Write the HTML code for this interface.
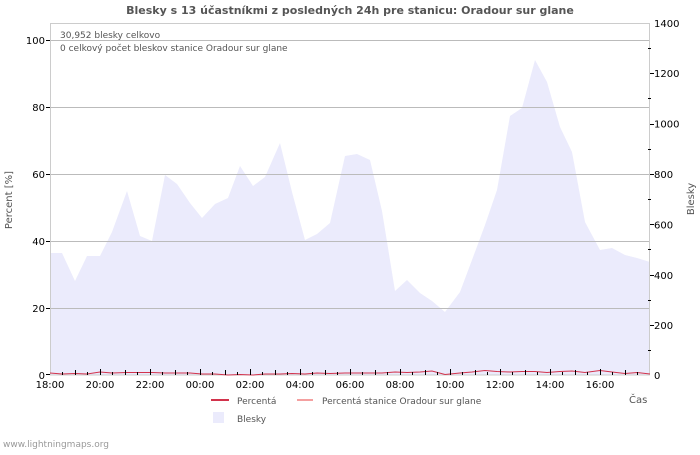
<!DOCTYPE html>
<html><head><meta charset="utf-8"><style>body{margin:0;background:#fff}</style></head><body>
<svg width="700" height="450" xmlns="http://www.w3.org/2000/svg" font-family="'DejaVu Sans','Liberation Sans',sans-serif">
<rect width="700" height="450" fill="#fff"/>
<text x="350" y="14" text-anchor="middle" font-size="11" font-weight="bold" fill="#555">Blesky s 13 účastníkmi z posledných 24h pre stanicu: Oradour sur glane</text>
<polygon fill="#ebebfc" points="50,375 50,253 62,253 75,281 87,256 100,256 112,232 127,191 140,236 152,241 165,175 177,184 190,203 202,218 215,204 228,198 240,166 253,186 265,177 280,143 292,192 305,240 317,234 330,223 345,156 357,154 370,160 382,211 395,291 407,280 420,293 432,301 445,312 460,292 472,260 485,225 497,190 510,116 522,108 535,60 547,82 560,127 572,152 585,222 600,250 612,248 625,255 637,258 650,262 650,375"/>
<g stroke="#bbb" stroke-width="1">
<line x1="50" y1="40.5" x2="650" y2="40.5"/><line x1="50" y1="107.5" x2="650" y2="107.5"/><line x1="50" y1="174.5" x2="650" y2="174.5"/><line x1="50" y1="241.5" x2="650" y2="241.5"/><line x1="50" y1="308.5" x2="650" y2="308.5"/>
</g>
<rect x="50.5" y="23.5" width="599" height="351.5" fill="none" stroke="#ccc"/>
<polyline fill="none" stroke="#d2334c" stroke-width="1" points="50,373 62,374 75,373.5 87,374 100,372 112,373 127,372.5 140,372.5 152,372.5 165,373 177,373 190,373 202,374 215,374 228,375 240,374.5 253,375 265,374 280,374 292,373.5 305,374 317,373 330,373.5 345,373 357,373 370,373 382,373 395,372 407,372.5 420,372 432,371 445,374.5 460,373 472,372 485,370.5 497,371.5 510,372 522,371.5 535,371.5 547,372.5 560,371.5 572,371 585,372.5 600,370.5 612,372 625,373.5 637,372.5 650,374"/>
<g font-size="10" fill="#000">
<text x="45" y="44" text-anchor="end">100</text><text x="45" y="111" text-anchor="end">80</text><text x="45" y="178" text-anchor="end">60</text><text x="45" y="245" text-anchor="end">40</text><text x="45" y="312" text-anchor="end">20</text><text x="45" y="379" text-anchor="end">0</text>
</g>
<g font-size="10" fill="#000">
<text x="654" y="27">1400</text><text x="654" y="77">1200</text><text x="654" y="127.5">1000</text><text x="654" y="178">800</text><text x="654" y="228.5">600</text><text x="654" y="279">400</text><text x="654" y="329">200</text><text x="654" y="379">0</text>
</g>
<g stroke="#000" stroke-width="1">
<line x1="46" y1="40.5" x2="50" y2="40.5"/><line x1="46" y1="107.5" x2="50" y2="107.5"/><line x1="46" y1="174.5" x2="50" y2="174.5"/><line x1="46" y1="241.5" x2="50" y2="241.5"/><line x1="46" y1="308.5" x2="50" y2="308.5"/><line x1="46" y1="374.5" x2="50" y2="374.5"/>
<line x1="648" y1="48.5" x2="651" y2="48.5"/><line x1="648" y1="98.5" x2="651" y2="98.5"/><line x1="648" y1="149.5" x2="651" y2="149.5"/><line x1="648" y1="199.5" x2="651" y2="199.5"/><line x1="648" y1="249.5" x2="651" y2="249.5"/><line x1="648" y1="300.5" x2="651" y2="300.5"/><line x1="648" y1="350.5" x2="651" y2="350.5"/>
<line x1="650" y1="73.5" x2="654" y2="73.5"/><line x1="650" y1="124.5" x2="654" y2="124.5"/><line x1="650" y1="174.5" x2="654" y2="174.5"/><line x1="650" y1="224.5" x2="654" y2="224.5"/><line x1="650" y1="275.5" x2="654" y2="275.5"/><line x1="650" y1="325.5" x2="654" y2="325.5"/>
</g>
<g stroke="#000" stroke-width="1">
<line x1="62.5" y1="372" x2="62.5" y2="375"/><line x1="75.5" y1="370" x2="75.5" y2="375"/><line x1="87.5" y1="372" x2="87.5" y2="375"/><line x1="112.5" y1="372" x2="112.5" y2="375"/><line x1="125.5" y1="370" x2="125.5" y2="375"/><line x1="137.5" y1="372" x2="137.5" y2="375"/><line x1="162.5" y1="372" x2="162.5" y2="375"/><line x1="175.5" y1="370" x2="175.5" y2="375"/><line x1="187.5" y1="372" x2="187.5" y2="375"/><line x1="212.5" y1="372" x2="212.5" y2="375"/><line x1="225.5" y1="370" x2="225.5" y2="375"/><line x1="237.5" y1="372" x2="237.5" y2="375"/><line x1="262.5" y1="372" x2="262.5" y2="375"/><line x1="275.5" y1="370" x2="275.5" y2="375"/><line x1="287.5" y1="372" x2="287.5" y2="375"/><line x1="312.5" y1="372" x2="312.5" y2="375"/><line x1="325.5" y1="370" x2="325.5" y2="375"/><line x1="337.5" y1="372" x2="337.5" y2="375"/><line x1="362.5" y1="372" x2="362.5" y2="375"/><line x1="375.5" y1="370" x2="375.5" y2="375"/><line x1="387.5" y1="372" x2="387.5" y2="375"/><line x1="412.5" y1="372" x2="412.5" y2="375"/><line x1="425.5" y1="370" x2="425.5" y2="375"/><line x1="437.5" y1="372" x2="437.5" y2="375"/><line x1="462.5" y1="372" x2="462.5" y2="375"/><line x1="475.5" y1="370" x2="475.5" y2="375"/><line x1="487.5" y1="372" x2="487.5" y2="375"/><line x1="512.5" y1="372" x2="512.5" y2="375"/><line x1="525.5" y1="370" x2="525.5" y2="375"/><line x1="537.5" y1="372" x2="537.5" y2="375"/><line x1="562.5" y1="372" x2="562.5" y2="375"/><line x1="575.5" y1="370" x2="575.5" y2="375"/><line x1="587.5" y1="372" x2="587.5" y2="375"/><line x1="612.5" y1="372" x2="612.5" y2="375"/><line x1="625.5" y1="370" x2="625.5" y2="375"/><line x1="637.5" y1="372" x2="637.5" y2="375"/>
<line x1="100.5" y1="369" x2="100.5" y2="375"/><line x1="150.5" y1="369" x2="150.5" y2="375"/><line x1="200.5" y1="369" x2="200.5" y2="375"/><line x1="250.5" y1="369" x2="250.5" y2="375"/><line x1="300.5" y1="369" x2="300.5" y2="375"/><line x1="350.5" y1="369" x2="350.5" y2="375"/><line x1="400.5" y1="369" x2="400.5" y2="375"/><line x1="450.5" y1="369" x2="450.5" y2="375"/><line x1="500.5" y1="369" x2="500.5" y2="375"/><line x1="550.5" y1="369" x2="550.5" y2="375"/><line x1="600.5" y1="369" x2="600.5" y2="375"/>
</g>
<g font-size="10" fill="#000" text-anchor="middle">
<text x="50" y="388">18:00</text><text x="100" y="388">20:00</text><text x="150" y="388">22:00</text><text x="200" y="388">00:00</text><text x="250" y="388">02:00</text><text x="300" y="388">04:00</text><text x="350" y="388">06:00</text><text x="400" y="388">08:00</text><text x="450" y="388">10:00</text><text x="500" y="388">12:00</text><text x="550" y="388">14:00</text><text x="600" y="388">16:00</text>
</g>
<text x="60" y="38" font-size="9" fill="#555">30,952 blesky celkovo</text>
<text x="60" y="51" font-size="9" fill="#555">0 celkový počet bleskov stanice Oradour sur glane</text>
<text transform="translate(12,200) rotate(-90)" text-anchor="middle" font-size="10" fill="#555">Percent   [%]</text>
<text transform="translate(694,199) rotate(-90)" text-anchor="middle" font-size="10" fill="#555">Blesky</text>
<text x="629" y="403" font-size="10" fill="#555">Čas</text>
<line x1="211" y1="400" x2="229" y2="400" stroke="#d2334c" stroke-width="2"/>
<text x="237" y="404" font-size="9" fill="#555">Percentá</text>
<line x1="297" y1="400" x2="313" y2="400" stroke="#f4a0a0" stroke-width="2"/>
<text x="322" y="404" font-size="9" fill="#555">Percentá stanice Oradour sur glane</text>
<rect x="213" y="412" width="11" height="11" fill="#ebebfc"/>
<text x="237" y="422" font-size="9" fill="#555">Blesky</text>
<text x="3" y="447" font-size="9" fill="#999">www.lightningmaps.org</text>
</svg>
</body></html>
